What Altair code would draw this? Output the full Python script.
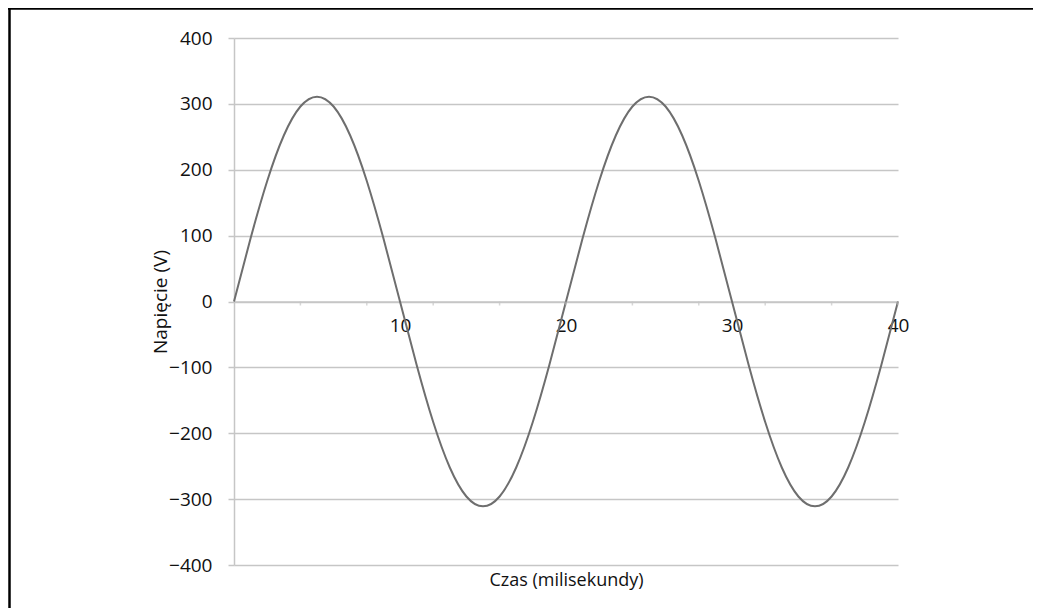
import altair as alt
import pandas as pd

# Time in milliseconds and voltage
czas_ms = list(range(0, 41))
napiecie_v = [
    0, 96, 183, 252, 296, 311, 296, 252, 183, 96,
    0, -96, -183, -252, -296, -311, -296, -252, -183, -96,
    0, 96, 183, 252, 296, 311, 296, 252, 183, 96,
    0, -96, -183, -252, -296, -311, -296, -252, -183, -96,
    0,
]
x_label_values = [10, 20, 30, 40]
x_tick_values = [4, 8, 12, 16, 20, 24, 28, 32, 36, 40]
y_values = [-400, -300, -200, -100, 0, 100, 200, 300, 400]

df = pd.DataFrame({"t": czas_ms, "v": napiecie_v})
ticks_df = pd.DataFrame({"t": x_tick_values, "v": [0] * len(x_tick_values)})

FONT = "Open Sans"
GRID = "#c6c6c6"
W, H = 664, 527
zero_y = H / 2

x_scale = alt.Scale(domain=[0, 40], nice=False, zero=False)
y_scale = alt.Scale(domain=[-400, 400], nice=False)

x_axis = alt.Axis(values=x_label_values, offset=-zero_y, ticks=False,
                  tickSize=0, grid=False, domain=True, domainColor=GRID,
                  domainWidth=1.5, labelFont=FONT, labelFontSize=19,
                  labelColor="#111", labelPadding=15, labelFlush=False,
                  title="Czas (milisekundy)", titleFont=FONT,
                  titleFontSize=18, titleFontWeight="normal",
                  titleColor="#111", titleY=279, titleBaseline="middle",
                  titleX=W / 2)
y_axis = alt.Axis(values=y_values, grid=True, gridColor=GRID,
                  gridWidth=1.5, domain=True, domainColor=GRID,
                  domainWidth=1.5, ticks=True, tickColor=GRID,
                  tickWidth=1.5, tickSize=6, labelFont=FONT,
                  labelFontSize=19, labelColor="#111", labelPadding=16,
                  title="Napięcie (V)", titleFont=FONT, titleFontSize=19,
                  titleFontWeight="normal", titleColor="#111",
                  titleX=-74, titleY=zero_y, titleAngle=270,
                  titleAlign="center", titleBaseline="middle")

line = alt.Chart(df).mark_line(
    color="#6e6e6e", strokeWidth=2, interpolate="natural"
).encode(
    x=alt.X("t:Q", scale=x_scale, axis=x_axis),
    y=alt.Y("v:Q", scale=y_scale, axis=y_axis),
)

ticks = alt.Chart(ticks_df).mark_tick(
    color=GRID, thickness=1.5, size=4, yOffset=2, orient="vertical"
).encode(
    x=alt.X("t:Q", scale=x_scale, axis=x_axis),
    y=alt.Y("v:Q", scale=y_scale, axis=y_axis),
)

frame_df = pd.DataFrame({"k": [0]})
top_border = alt.Chart(frame_df).mark_rule(
    color="black", strokeWidth=2.5, clip=False
).encode(x=alt.value(-226), x2=alt.value(820), y=alt.value(-29.5))
left_border = alt.Chart(frame_df).mark_rule(
    color="black", strokeWidth=2.5, clip=False
).encode(x=alt.value(-224.5), y=alt.value(-31), y2=alt.value(600))

chart = alt.layer(line, ticks, top_border, left_border).properties(
    width=W, height=H,
    background="white",
    view=alt.ViewBackground(stroke="white", strokeOpacity=0, strokeWidth=0),
    autosize=alt.AutoSizeParams(type="none"),
    padding={"left": 226, "top": 30, "right": 135, "bottom": 43},
).configure_view(stroke="white", strokeOpacity=0, strokeWidth=0).configure_axis(grid=False)

chart.save("out.html", embed_options={"renderer": "svg", "actions": False})
